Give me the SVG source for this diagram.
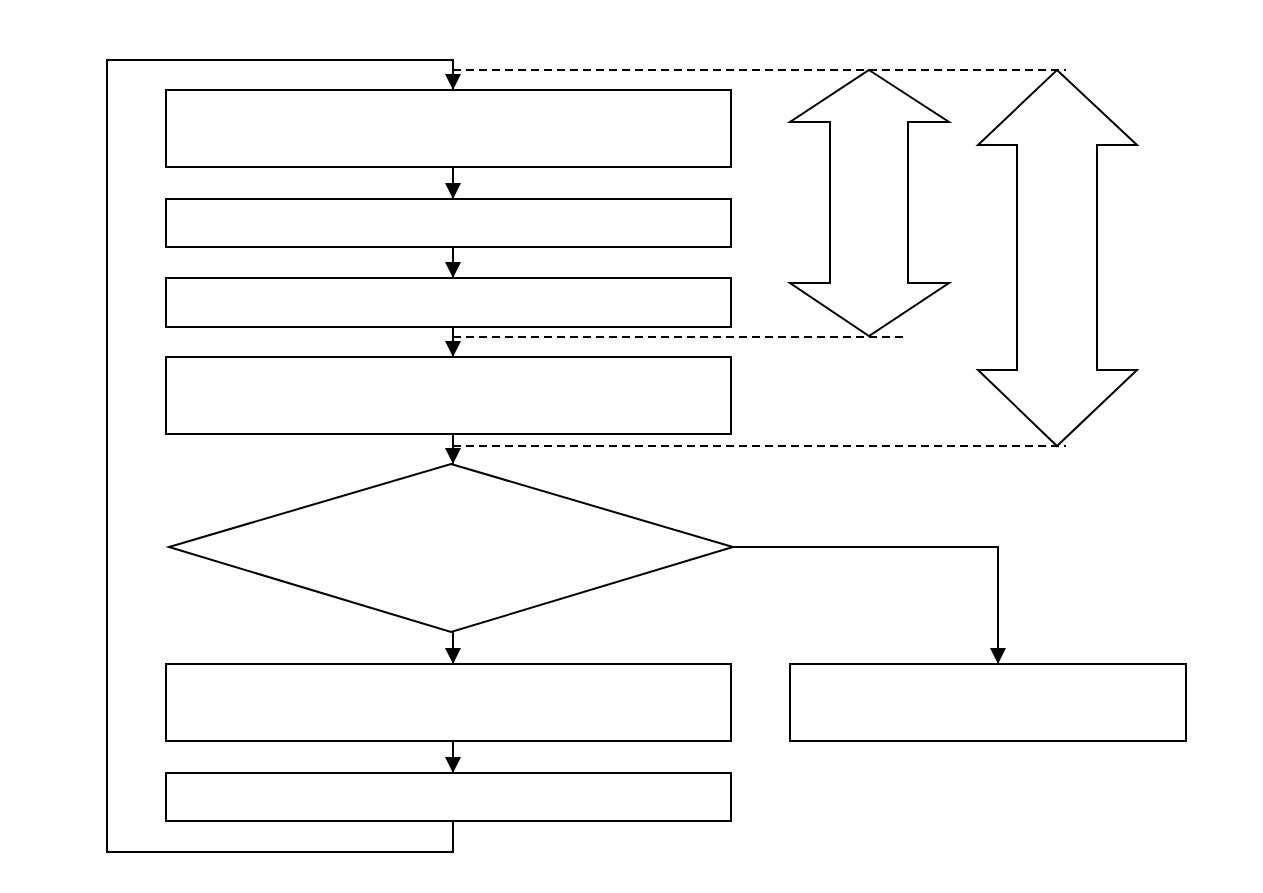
<svg xmlns="http://www.w3.org/2000/svg" width="1263" height="893" viewBox="0 0 1263 893">
<style>
.n{fill:#fff;stroke:#000;stroke-width:2}
.c{fill:none;stroke:#000;stroke-width:2}
.d{fill:none;stroke:#000;stroke-width:2;stroke-dasharray:8 5}
</style>
<defs>
<marker id="a" markerWidth="16" markerHeight="16" refX="16" refY="8" orient="auto" markerUnits="userSpaceOnUse" viewBox="0 0 16 16">
<path d="M0,0 L16,8 L0,16 Z" fill="#000"/>
</marker>
</defs>
<rect width="1263" height="893" fill="#fff"/>
<g id="connectors">
<path class="c" d="M453,821 V852 H107 V60 H453 V90" marker-end="url(#a)"/>
<path class="c" d="M453,167 V199" marker-end="url(#a)"/>
<path class="c" d="M453,247 V278" marker-end="url(#a)"/>
<path class="c" d="M453,327 V357" marker-end="url(#a)"/>
<path class="c" d="M453,434 V464" marker-end="url(#a)"/>
<path class="c" d="M453,632 V664" marker-end="url(#a)"/>
<path class="c" d="M453,741 V773" marker-end="url(#a)"/>
<path class="c" d="M733,547 H998 V664" marker-end="url(#a)"/>
<path class="d" d="M453,70 H1066"/>
<path class="d" d="M453,337 H908"/>
<path class="d" d="M453,446 H1066"/>
</g>
<g id="box1"><rect class="n" x="166" y="90" width="565" height="77"/></g>
<g id="box2"><rect class="n" x="166" y="199" width="565" height="48"/></g>
<g id="box3"><rect class="n" x="166" y="278" width="565" height="49"/></g>
<g id="box4"><rect class="n" x="166" y="357" width="565" height="77"/></g>
<g id="decision"><polygon class="n" points="451,464 733,547 451,632 169,547"/></g>
<g id="box5"><rect class="n" x="166" y="664" width="565" height="77"/></g>
<g id="box6"><rect class="n" x="166" y="773" width="565" height="48"/></g>
<g id="box7"><rect class="n" x="790" y="664" width="396" height="77"/></g>
<g id="arrow1"><polygon class="n" points="869,70 949,122 908,122 908,283 949,283 869,336 790,283 830,283 830,122 790,122"/></g>
<g id="arrow2"><polygon class="n" points="1057,70 1137,145 1097,145 1097,370 1137,370 1057,446 978,370 1017,370 1017,145 978,145"/></g>
</svg>
